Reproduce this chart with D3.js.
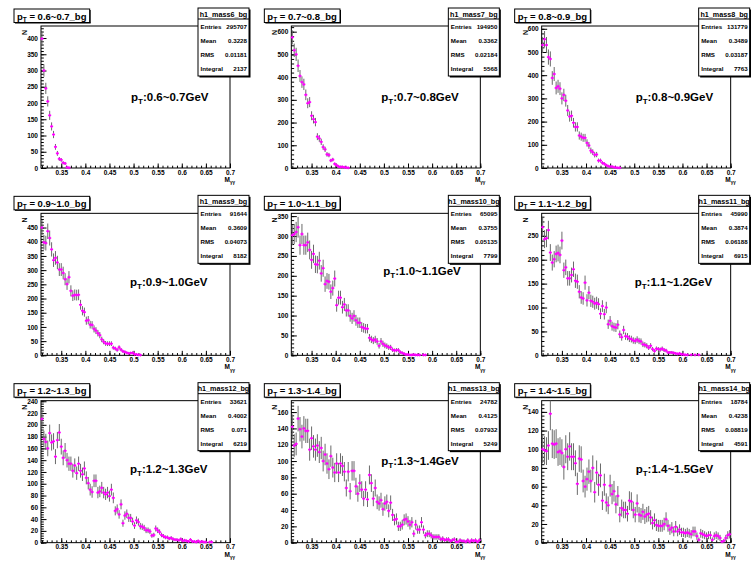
<!DOCTYPE html>
<html>
<head>
<meta charset="utf-8">
<script src="https://cdn.jsdelivr.net/npm/d3@7"></script>
<style>
  body { margin: 0; background: #fff; }
  text { font-family: "Liberation Sans", Arial, sans-serif; font-weight: bold; fill: #000; }
</style>
</head>
<body>
<svg id="c" width="751" height="562"></svg>
<script>
// histogram binning (GeV)
const xLo = 0.308, xHi = 0.7, binW = 0.004;

const ptBins = ["0.6~0.7", "0.7~0.8", "0.8~0.9", "0.9~1.0", "1.0~1.1", "1.1~1.2", "1.2~1.3", "1.3~1.4", "1.4~1.5"];
const histNames = ["h1_mass6_bg", "h1_mass7_bg", "h1_mass8_bg", "h1_mass9_bg", "h1_mass10_bg", "h1_mass11_bg", "h1_mass12_bg", "h1_mass13_bg", "h1_mass14_bg"];
const entries = ["295707", "194950", "131779", "91644", "65095", "45990", "33621", "24782", "18784"];
const means = ["0.3228", "0.3362", "0.3489", "0.3609", "0.3755", "0.3874", "0.4002", "0.4125", "0.4238"];
const rmss = ["0.01181", "0.02184", "0.03187", "0.04073", "0.05135", "0.06188", "0.071", "0.07932", "0.08819"];
const integrals = ["2137", "5568", "7763", "8182", "7799", "6915", "6219", "5249", "4591"];

const yMax = [437, 625, 612, 500, 357, 297, 241, 174, 152];
const yStep = [50, 100, 100, 50, 50, 50, 20, 20, 20];
const errScale = [1.1, 1.3, 1.5, 1.3, 1.45, 1.2, 1.05, 1.27, 1.5];

// bin contents, first bin centred at 0.310
const counts6 = [398, 300, 245, 205, 162, 128, 103, 65, 45, 28, 25, 16, 14, 2, 1];
const counts7 = [575, 518, 500, 450, 405, 378, 368, 322, 285, 290, 230, 215, 202, 138, 130, 115, 92, 82, 60, 57, 33, 37, 18, 12, 7, 4, 5, 3, 2, 1];
const counts8 = [530, 555, 530, 478, 470, 388, 405, 345, 352, 342, 300, 315, 290, 248, 222, 225, 195, 177, 177, 140, 135, 130, 130, 108, 97, 75, 68, 57, 58, 32, 32, 22, 18, 12, 8, 6, 6, 3, 2, 1, 1];
const counts9 = [450, 398, 395, 437, 413, 373, 335, 343, 327, 302, 302, 290, 268, 251, 275, 227, 210, 213, 212, 213, 178, 157, 152, 122, 124, 108, 107, 93, 87, 78, 71, 56, 48, 42, 41, 41, 41, 27, 24, 19, 28, 20, 14, 12, 9, 7, 8, 9, 4, 3, 2, 1];
const counts10 = [302, 305, 310, 322, 277, 305, 277, 277, 284, 265, 240, 255, 229, 228, 238, 206, 219, 179, 187, 185, 160, 169, 193, 126, 145, 145, 121, 128, 113, 113, 99, 93, 99, 88, 82, 82, 71, 69, 67, 67, 44, 40, 37, 40, 35, 24, 35, 29, 25, 23, 20, 20, 14, 12, 13, 13, 8, 6, 4, 2, 2, 1, 1, 2, 1, 1, 1, 0, 1, 1];
const counts11 = [268, 243, 245, 262, 215, 194, 201, 212, 214, 210, 240, 178, 184, 161, 161, 168, 180, 156, 154, 133, 121, 119, 152, 115, 131, 114, 112, 108, 110, 107, 87, 103, 86, 100, 65, 72, 61, 59, 58, 64, 44, 38, 53, 40, 39, 35, 34, 31, 30, 33, 30, 29, 23, 22, 20, 16, 20, 13, 9, 14, 13, 12, 14, 11, 10, 6, 6, 6, 5, 4, 3, 4, 2, 2, 1, 1, 0, 1, 0, 1, 0, 1];
const counts12 = [210, 176, 171, 160, 186, 170, 172, 146, 174, 187, 163, 144, 156, 140, 134, 134, 122, 131, 118, 134, 122, 116, 126, 110, 101, 90, 86, 105, 105, 85, 87, 93, 85, 82, 85, 79, 90, 76, 54, 57, 48, 65, 33, 46, 49, 42, 42, 36, 29, 38, 35, 28, 27, 25, 21, 21, 19, 12, 13, 24, 21, 18, 13, 11, 9, 9, 7, 8, 6, 5, 5, 4, 6, 3, 4, 3, 2, 5, 2, 2, 1, 3, 1, 2, 1, 1, 0, 1, 1];
const counts13 = [142, 119, 121, 152, 139, 130, 140, 137, 137, 114, 128, 118, 114, 119, 111, 116, 100, 108, 97, 90, 106, 92, 86, 97, 86, 97, 94, 87, 67, 87, 63, 88, 88, 69, 60, 73, 65, 54, 65, 53, 83, 73, 54, 67, 50, 48, 52, 41, 48, 50, 39, 49, 34, 28, 29, 20, 20, 22, 28, 29, 26, 22, 25, 11, 22, 16, 16, 25, 16, 9, 11, 11, 9, 7, 7, 7, 7, 4, 5, 3, 4, 4, 2, 3, 4, 1, 1, 3, 2, 2, 1, 3, 1, 3, 2, 3, 1, 3];
const counts14 = [100, 99, 98, 104, 138, 106, 105, 106, 97, 98, 96, 81, 100, 92, 103, 92, 92, 85, 63, 90, 89, 66, 60, 68, 76, 66, 80, 54, 75, 62, 72, 45, 62, 43, 40, 61, 52, 55, 41, 50, 30, 37, 35, 35, 31, 45, 44, 35, 30, 42, 30, 29, 33, 28, 30, 31, 27, 21, 24, 19, 18, 18, 18, 20, 25, 18, 14, 16, 12, 17, 12, 14, 11, 11, 10, 11, 10, 9, 12, 12, 7, 3, 10, 9, 8, 7, 8, 8, 3, 7, 8, 7, 5, 1, 2, 5, 8, 9];

const series = [counts6, counts7, counts8, counts9, counts10, counts11, counts12, counts13, counts14];

const W = 751, H = 562;
const padW = W / 3, padH = H / 3;
const fr = {left: 41, right: 230, top: 26, bottom: 168};
const labelPos = [[131, 101], [131, 101], [135, 101], [130, 99], [133, 88], [134, 99], [130, 98], [131, 90], [135, 98]];

const svg = d3.select("#c");
svg.append("rect").attr("width", W).attr("height", H).attr("fill", "#fff");

series.forEach((counts, k) => {
  const col = k % 3, row = Math.floor(k / 3);
  const g = svg.append("g").attr("transform", `translate(${col * padW},${row * padH})`);

  const x = d3.scaleLinear().domain([xLo, xHi]).range([fr.left, fr.right]);
  const y = d3.scaleLinear().domain([0, yMax[k]]).range([fr.bottom, fr.top]);

  // axes, ROOT style: ticks point into the frame
  const xMajor = d3.range(0.35, 0.7001, 0.05);
  const xMinor = d3.range(0.31, 0.7001, 0.01);
  const yMajor = d3.range(0, yMax[k], yStep[k]);
  const yMinor = d3.range(0, yMax[k], yStep[k] / 5);

  g.append("g").attr("transform", `translate(0,${fr.bottom})`)
    .call(d3.axisBottom(x).tickValues(xMinor).tickSize(-2.3).tickFormat(""));
  g.append("g").attr("transform", `translate(0,${fr.bottom})`)
    .call(d3.axisBottom(x).tickValues(xMajor).tickSize(-4.5).tickPadding(2).tickFormat(d3.format("~g")))
    .call(a => a.selectAll("text").attr("font-size", 6.5));
  g.append("g").attr("transform", `translate(${fr.left},0)`)
    .call(d3.axisLeft(y).tickValues(yMinor).tickSize(-2.8).tickFormat(""));
  g.append("g").attr("transform", `translate(${fr.left},0)`)
    .call(d3.axisLeft(y).tickValues(yMajor).tickSize(-5.5).tickPadding(3))
    .call(a => a.selectAll("text").attr("font-size", 6.5));
  g.selectAll(".domain").remove();
  g.selectAll(".tick line").attr("stroke", "#000");

  g.append("rect")
    .attr("x", fr.left).attr("y", fr.top)
    .attr("width", fr.right - fr.left).attr("height", fr.bottom - fr.top)
    .attr("fill", "none").attr("stroke", "#000").attr("stroke-width", 1);

  // data: grey error bars, magenta markers
  const pts = counts.map((v, i) => ({c: xLo + binW * (i + 0.5), v, e: errScale[k] * Math.sqrt(v)}))
    .filter(d => d.v > 0);
  g.append("g").selectAll("line").data(pts).join("line")
    .attr("x1", d => x(d.c)).attr("x2", d => x(d.c))
    .attr("y1", d => y(Math.max(0, d.v - d.e))).attr("y2", d => y(Math.min(yMax[k], d.v + d.e)))
    .attr("stroke", "#6a6a6a").attr("stroke-width", 1);
  const mk = g.append("g").attr("stroke", "#f0f");
  mk.selectAll("line.h").data(pts).join("line").attr("class", "h")
    .attr("x1", d => x(d.c) - 1.5).attr("x2", d => x(d.c) + 1.5)
    .attr("y1", d => y(d.v)).attr("y2", d => y(d.v))
    .attr("stroke-width", 1.6);
  mk.selectAll("line.v").data(pts).join("line").attr("class", "v")
    .attr("x1", d => x(d.c)).attr("x2", d => x(d.c))
    .attr("y1", d => y(d.v) - 1.5).attr("y2", d => y(d.v) + 1.5)
    .attr("stroke-width", 1);

  // axis titles
  g.append("text").attr("transform", `translate(27,${fr.top + 4}) rotate(-90)`)
    .attr("text-anchor", "end").attr("font-size", 7).text("N");
  const xt = g.append("text").attr("x", fr.right + 5).attr("y", fr.bottom + 14)
    .attr("text-anchor", "end").attr("font-size", 6.5);
  xt.append("tspan").text("M");
  xt.append("tspan").attr("dy", 2.3).attr("font-size", 4.5).text("γγ");

  // title box
  const tg = g.append("g");
  const tr = tg.append("rect");
  const tt = tg.append("text").attr("x", 17).attr("y", 19.5).attr("font-size", 9.5);
  tt.append("tspan").text("p");
  tt.append("tspan").attr("dy", 2.5).attr("font-size", 6.5).text("T");
  tt.append("tspan").attr("dy", -2.5).text(` = ${ptBins[k]}_bg`);
  const tb = tt.node().getBBox();
  tr.attr("x", tb.x - 3).attr("y", 9).attr("width", tb.width + 6).attr("height", 13.5)
    .attr("fill", "#fff").attr("stroke", "#000").attr("stroke-width", 1);
  tg.append("line").attr("x1", tb.x - 2).attr("x2", tb.x + tb.width + 4).attr("y1", 23).attr("y2", 23)
    .attr("stroke", "#000").attr("stroke-width", 1);
  tg.append("line").attr("x1", tb.x + tb.width + 3.5).attr("x2", tb.x + tb.width + 3.5).attr("y1", 10).attr("y2", 23)
    .attr("stroke", "#000").attr("stroke-width", 1);

  // stats box
  const sx = 198, sw = 51, sy = 8, sh = 68;
  g.append("rect").attr("x", sx + 1.5).attr("y", sy + 1.5).attr("width", sw).attr("height", sh).attr("fill", "#000");
  g.append("rect").attr("x", sx).attr("y", sy).attr("width", sw).attr("height", sh)
    .attr("fill", "#fff").attr("stroke", "#000").attr("stroke-width", 1);
  g.append("line").attr("x1", sx).attr("x2", sx + sw).attr("y1", sy + 11).attr("y2", sy + 11).attr("stroke", "#000");
  g.append("text").attr("x", sx + sw / 2).attr("y", sy + 8.5).attr("text-anchor", "middle")
    .attr("font-size", 7.2).text(histNames[k]);
  const rows = [["Entries", entries[k]], ["Mean", means[k]], ["RMS", rmss[k]], ["Integral", integrals[k]]];
  rows.forEach((r, j) => {
    const yy = sy + 21 + j * 14;
    g.append("text").attr("x", sx + 2.5).attr("y", yy).attr("font-size", 6.2).text(r[0]);
    g.append("text").attr("x", sx + sw - 2).attr("y", yy).attr("text-anchor", "end").attr("font-size", 6.2).text(r[1]);
  });

  // pT label
  const lt = g.append("text").attr("x", labelPos[k][0]).attr("y", labelPos[k][1]).attr("font-size", 11.5);
  lt.append("tspan").text("p");
  lt.append("tspan").attr("dy", 3).attr("font-size", 8).text("T");
  lt.append("tspan").attr("dy", -3).text(`:${ptBins[k]}GeV`);
});
</script>
</body>
</html>
